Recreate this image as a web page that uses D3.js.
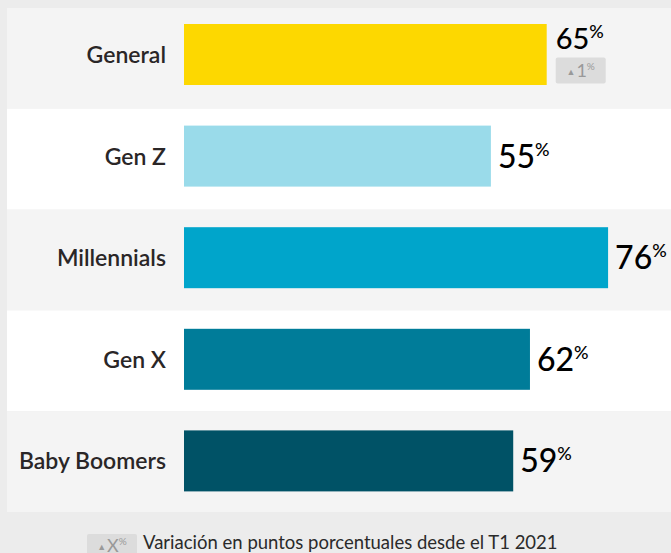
<!DOCTYPE html>
<html><head><meta charset="utf-8">
<script src="https://cdn.jsdelivr.net/npm/d3@7"></script>
<style>
html,body{margin:0;padding:0;background:#ececec;}
svg{display:block;}
</style></head>
<body>
<svg id="chart" width="671" height="553"></svg>
<script>
const categories = ["General", "Gen Z", "Millennials", "Gen X", "Baby Boomers"];
const values = [65, 55, 76, 62, 59];
const changes = [1, null, null, null, null];
const barColors = ["#fdd800", "#9adbea", "#00a5cb", "#007c99", "#005266"];
const rowColors = ["#f4f4f4", "#ffffff"];
const legendText = "Variación en puntos porcentuales desde el T1 2021";

const svg = d3.select("#chart");
const W = 671, H = 553;
const font = "Lato, 'Open Sans', sans-serif";

svg.append("rect").attr("width", W).attr("height", H).attr("fill", "#ececec");

const x = d3.scaleLinear().domain([0, 100]).range([184, 742]);
const y = d3.scaleBand().domain(categories).range([8, 512]).padding(0);
const yBar = d3.scaleBand().domain(categories).range([24, 24 + 5 * 101.6]).padding(0);
const barH = 61;

// rows
svg.selectAll("rect.row").data(categories).join("rect")
  .attr("class", "row")
  .attr("x", 7).attr("width", W - 7)
  .attr("y", d => y(d)).attr("height", y.bandwidth())
  .attr("fill", (d, i) => rowColors[i % 2]);

// bars
svg.selectAll("rect.bar").data(categories).join("rect")
  .attr("class", "bar")
  .attr("x", x(0))
  .attr("y", d => yBar(d))
  .attr("height", barH)
  .attr("width", (d, i) => x(values[i]) - x(0))
  .attr("fill", (d, i) => barColors[i]);

// category labels
svg.selectAll("text.cat").data(categories).join("text")
  .attr("class", "cat")
  .attr("x", 166)
  .attr("y", d => yBar(d) + barH / 2 + 8.5)
  .attr("text-anchor", "end")
  .attr("font-family", font)
  .attr("font-weight", 600)
  .attr("font-size", 23)
  .attr("fill", "#2a2627")
  .text(d => d);

// value labels
const vl = svg.selectAll("text.val").data(categories).join("text")
  .attr("class", "val")
  .attr("x", (d, i) => x(values[i]) + (changes[i] != null ? 9 : 7))
  .attr("y", (d, i) => yBar(d) + barH / 2 + (changes[i] != null ? -6 : 11.5))
  .attr("font-family", font)
  .attr("font-weight", 500)
  .attr("fill", "#000");
vl.append("tspan")
  .attr("font-size", (d, i) => changes[i] != null ? 29 : 32)
  .text((d, i) => values[i]);
vl.append("tspan")
  .attr("font-size", (d, i) => changes[i] != null ? 18 : 18)
  .attr("dy", (d, i) => changes[i] != null ? -11 : -12)
  .text("%");

// change badge
categories.forEach((c, i) => {
  if (changes[i] == null) return;
  const bx = x(values[i]) + 9, by = yBar(c) + 33.5;
  const g = svg.append("g").attr("transform", `translate(${bx},${by})`);
  g.append("rect").attr("width", 50).attr("height", 26).attr("rx", 2).attr("fill", "#dcdcdc");
  const t = g.append("text").attr("x", 25).attr("y", 19).attr("text-anchor", "middle")
    .attr("font-family", font).attr("fill", "#999999");
  t.append("tspan").attr("font-size", 9).attr("dy", -2).text("▲");
  t.append("tspan").attr("font-size", 18).attr("dy", 2).attr("dx", 1).text(changes[i]);
  t.append("tspan").attr("font-size", 10).attr("dy", -7).text("%");
});

// legend
const lg = svg.append("g").attr("transform", "translate(87,534)");
lg.append("rect").attr("width", 50).attr("height", 26).attr("rx", 2).attr("fill", "#dcdcdc");
const lt = lg.append("text").attr("x", 25).attr("y", 18).attr("text-anchor", "middle")
  .attr("font-family", font).attr("fill", "#999999");
lt.append("tspan").attr("font-size", 9).attr("dy", -2).text("▲");
lt.append("tspan").attr("font-size", 18).attr("dy", 2).attr("dx", 1).text("X");
lt.append("tspan").attr("font-size", 10).attr("dy", -7).text("%");
svg.append("text").attr("x", 143).attr("y", 549)
  .attr("font-family", font).attr("font-size", 18.5).attr("fill", "#2a2a2a")
  .text(legendText);
</script>
</body></html>
